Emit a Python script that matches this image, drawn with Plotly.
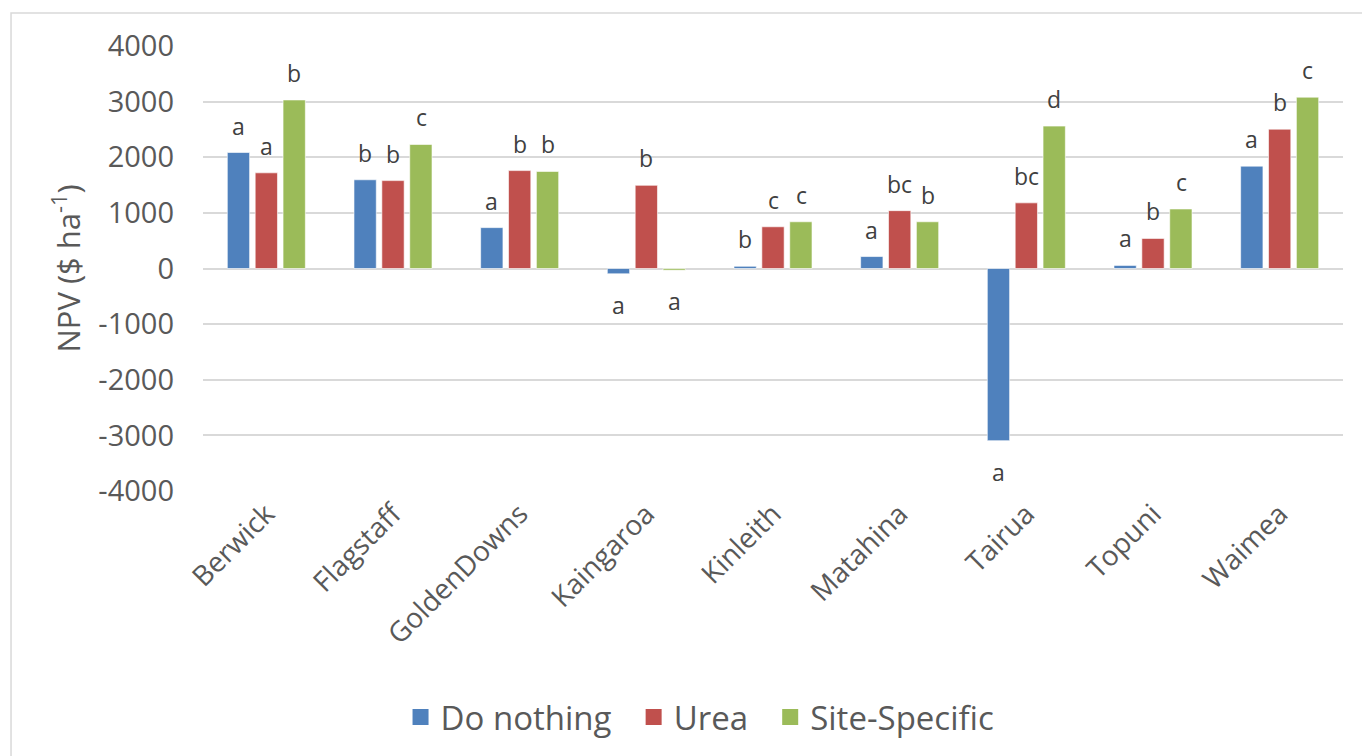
import plotly.graph_objects as go

sites = ["Berwick", "Flagstaff", "GoldenDowns", "Kaingaroa", "Kinleith",
         "Matahina", "Tairua", "Topuni", "Waimea"]
do_nothing = [2085, 1595, 735, -95, 40, 215, -3095, 55, 1840]
urea = [1720, 1580, 1760, 1495, 750, 1040, 1180, 540, 2505]
site_specific = [3030, 2230, 1745, -30, 840, 840, 2560, 1070, 3080]

lab_do = ["a", "b", "a", "a", "b", "a", "a", "a", "a"]
lab_urea = ["a", "b", "b", "b", "c", "bc", "bc", "b", "b"]
lab_ss = ["b", "c", "b", "a", "c", "b", "d", "c", "c"]

y_tickvals = [-4000, -3000, -2000, -1000, 0, 1000, 2000, 3000, 4000]
y_ticktext = ["-4000", "-3000", "-2000", "-1000", "0", "1000", "2000", "3000", "4000"]

series = [
    ("Do nothing", do_nothing, lab_do, "#4F81BD", -28),
    ("Urea", urea, lab_urea, "#C0504D", 0),
    ("Site-Specific", site_specific, lab_ss, "#9BBB59", 28),
]

FONT = "Open Sans"
fig = go.Figure()
annotations = []
for name, vals, labs, col, dx in series:
    fig.add_trace(go.Bar(
        x=sites, y=vals, name=name, showlegend=False,
        marker=dict(color=col, line=dict(color="rgba(255,255,255,0.6)", width=1)),
    ))
    for s, v, l in zip(sites, vals, labs):
        annotations.append(dict(
            x=s, y=v, xref="x", yref="y", text=l, showarrow=False,
            xshift=dx, yshift=27 if v >= 0 else -31,
            font=dict(family=FONT, size=23, color="#404040"),
            yanchor="middle", xanchor="center",
        ))
# legend entries (square swatches)
for i, (name, vals, labs, col, dx) in enumerate(series):
    pad = "\u00a0\u00a0" if i < len(series) - 1 else ""
    fig.add_trace(go.Scatter(
        x=[None], y=[None], mode="markers", name=name + pad, showlegend=True,
        marker=dict(symbol="square", size=18, color=col),
    ))

fig.update_layout(
    width=1362, height=756,
    margin=dict(l=203, r=19, t=46, b=264),
    paper_bgcolor="white", plot_bgcolor="white",
    barmode="group", bargap=0.34, bargroupgap=0.2,
    font=dict(family=FONT, color="#595959"),
    annotations=annotations,
    showlegend=True,
    legend=dict(orientation="h", x=0.436, xanchor="center", y=-0.5045, yanchor="middle",
                font=dict(family=FONT, size=33, color="#595959"),
                itemwidth=30, traceorder="normal"),
    shapes=[dict(type="rect", xref="paper", yref="paper",
                 x0=-0.1684, x1=1.03, y0=-0.65, y1=1.074,
                 line=dict(color="#D9D9D9", width=1.5), fillcolor="rgba(0,0,0,0)",
                 layer="below")],
)
fig.update_yaxes(
    range=[-4000, 4000], tickvals=y_tickvals, ticktext=y_ticktext,
    showgrid=True, gridcolor="#D9D9D9", gridwidth=1.5,
    zeroline=True, zerolinecolor="#D9D9D9", zerolinewidth=1.5,
    showline=False, ticks="", ticklabelstandoff=28,
    tickfont=dict(family=FONT, size=29, color="#595959"),
    title=dict(text="NPV ($ ha<sup>-1</sup>)", font=dict(family=FONT, size=31, color="#595959"),
               standoff=8),
)
fig.update_xaxes(
    tickangle=-45, showline=False, ticks="", showgrid=False,
    tickfont=dict(family=FONT, size=28, color="#595959"),
)

fig.write_html("out.html")
